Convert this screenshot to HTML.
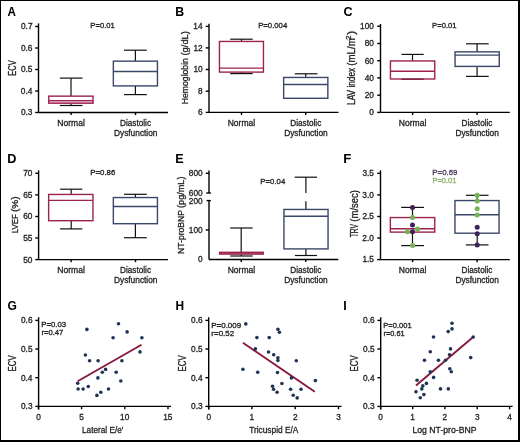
<!DOCTYPE html>
<html><head><meta charset="utf-8"><style>html,body{margin:0;padding:0;background:#fff;width:520px;height:442px;overflow:hidden;position:relative}svg{display:block;position:absolute;left:0;top:0;filter:blur(0.25px)}
.b{position:absolute;background:#000}</style></head>
<body><div class="b" style="left:0;top:0;width:520px;height:1.2px"></div><div class="b" style="left:0;top:0;width:1.4px;height:442px"></div><div class="b" style="left:518.2px;top:0;width:1.8px;height:442px"></div><div class="b" style="left:0;top:440.2px;width:520px;height:1.8px"></div>
<svg width="520" height="442" viewBox="0 0 520 442" font-family="'Liberation Sans', sans-serif">

<text x="7.51" y="16.00" font-size="12.1" font-weight="bold" fill="#000" textLength="8.41" lengthAdjust="spacingAndGlyphs" stroke="#000" stroke-width="0.05">A</text>
<text x="175.30" y="15.90" font-size="12.1" font-weight="bold" fill="#000" textLength="8.88" lengthAdjust="spacingAndGlyphs" stroke="#000" stroke-width="0.05">B</text>
<text x="343.40" y="16.00" font-size="12.1" font-weight="bold" fill="#000" textLength="9.04" lengthAdjust="spacingAndGlyphs" stroke="#000" stroke-width="0.05">C</text>
<text x="7.28" y="162.90" font-size="12.1" font-weight="bold" fill="#000" textLength="9.16" lengthAdjust="spacingAndGlyphs" stroke="#000" stroke-width="0.05">D</text>
<text x="175.38" y="162.90" font-size="12.1" font-weight="bold" fill="#000" textLength="8.38" lengthAdjust="spacingAndGlyphs" stroke="#000" stroke-width="0.05">E</text>
<text x="343.15" y="162.90" font-size="12.1" font-weight="bold" fill="#000" textLength="8.03" lengthAdjust="spacingAndGlyphs" stroke="#000" stroke-width="0.05">F</text>
<text x="7.62" y="309.70" font-size="12.1" font-weight="bold" fill="#000" textLength="9.33" lengthAdjust="spacingAndGlyphs" stroke="#000" stroke-width="0.05">G</text>
<text x="175.43" y="309.90" font-size="12.1" font-weight="bold" fill="#000" textLength="8.57" lengthAdjust="spacingAndGlyphs" stroke="#000" stroke-width="0.05">H</text>
<text x="343.19" y="309.90" font-size="12.1" font-weight="bold" fill="#000" textLength="3.45" lengthAdjust="spacingAndGlyphs" stroke="#000" stroke-width="0.05">I</text>
<line x1="38.50" y1="23.40" x2="38.50" y2="112.50" stroke="#000" stroke-width="1.4"/>
<line x1="35.20" y1="26.50" x2="38.50" y2="26.50" stroke="#000" stroke-width="1.4"/>
<text x="20.98" y="29.41" font-size="8.3" font-weight="normal" fill="#222" textLength="11.54" lengthAdjust="spacingAndGlyphs" stroke="#222" stroke-width="0.3">0.7</text>
<line x1="35.20" y1="48.00" x2="38.50" y2="48.00" stroke="#000" stroke-width="1.4"/>
<text x="20.89" y="50.91" font-size="8.3" font-weight="normal" fill="#222" textLength="11.54" lengthAdjust="spacingAndGlyphs" stroke="#222" stroke-width="0.3">0.6</text>
<line x1="35.20" y1="69.50" x2="38.50" y2="69.50" stroke="#000" stroke-width="1.4"/>
<text x="20.89" y="72.41" font-size="8.3" font-weight="normal" fill="#222" textLength="11.54" lengthAdjust="spacingAndGlyphs" stroke="#222" stroke-width="0.3">0.5</text>
<line x1="35.20" y1="91.00" x2="38.50" y2="91.00" stroke="#000" stroke-width="1.4"/>
<text x="20.81" y="93.91" font-size="8.3" font-weight="normal" fill="#222" textLength="11.54" lengthAdjust="spacingAndGlyphs" stroke="#222" stroke-width="0.3">0.4</text>
<line x1="35.20" y1="112.50" x2="38.50" y2="112.50" stroke="#000" stroke-width="1.4"/>
<text x="20.89" y="115.41" font-size="8.3" font-weight="normal" fill="#222" textLength="11.54" lengthAdjust="spacingAndGlyphs" stroke="#222" stroke-width="0.3">0.3</text>
<line x1="38.50" y1="112.50" x2="168.00" y2="112.50" stroke="#000" stroke-width="1.4"/>
<line x1="71.10" y1="112.50" x2="71.10" y2="115.10" stroke="#000" stroke-width="1.4"/>
<line x1="135.50" y1="112.50" x2="135.50" y2="115.10" stroke="#000" stroke-width="1.4"/>
<text x="16.00" y="75.70" transform="rotate(-90 16.00 75.70)" font-size="10.6" fill="#222" textLength="15.34" lengthAdjust="spacingAndGlyphs" stroke="#222" stroke-width="0.3">ECV</text>
<text x="90.39" y="28.10" font-size="7.6" font-weight="normal" fill="#222" textLength="24.47" lengthAdjust="spacingAndGlyphs" stroke="#222" stroke-width="0.3">P=0.01</text>
<rect x="48.50" y="100.60" width="44.80" height="2.60" fill="#f0bfd0"/>
<line x1="71.00" y1="78.10" x2="71.00" y2="96.00" stroke="#111" stroke-width="1.2"/>
<line x1="59.80" y1="78.10" x2="82.50" y2="78.10" stroke="#111" stroke-width="1.2"/>
<line x1="71.00" y1="103.20" x2="71.00" y2="105.50" stroke="#111" stroke-width="1.2"/>
<line x1="59.80" y1="105.50" x2="82.50" y2="105.50" stroke="#111" stroke-width="1.2"/>
<rect x="48.75" y="96.15" width="44.30" height="7.05" fill="none" stroke="#9c2350" stroke-width="1.4"/>
<line x1="48.75" y1="100.60" x2="93.05" y2="100.60" stroke="#9c2350" stroke-width="1.4"/>
<line x1="135.40" y1="50.20" x2="135.40" y2="61.00" stroke="#111" stroke-width="1.2"/>
<line x1="124.00" y1="50.20" x2="146.80" y2="50.20" stroke="#111" stroke-width="1.2"/>
<line x1="135.40" y1="85.90" x2="135.40" y2="94.60" stroke="#111" stroke-width="1.2"/>
<line x1="124.00" y1="94.60" x2="146.80" y2="94.60" stroke="#111" stroke-width="1.2"/>
<rect x="113.35" y="61.15" width="44.10" height="24.75" fill="none" stroke="#3b4769" stroke-width="1.4"/>
<line x1="113.35" y1="71.50" x2="157.45" y2="71.50" stroke="#3b4769" stroke-width="1.4"/>
<text x="57.27" y="125.80" font-size="9.0" font-weight="normal" fill="#222" textLength="27.56" lengthAdjust="spacingAndGlyphs" stroke="#222" stroke-width="0.3">Normal</text>
<text x="120.09" y="125.70" font-size="9.0" font-weight="normal" fill="#222" textLength="30.95" lengthAdjust="spacingAndGlyphs" stroke="#222" stroke-width="0.3">Diastolic</text>
<text x="113.98" y="135.80" font-size="9.0" font-weight="normal" fill="#222" textLength="43.50" lengthAdjust="spacingAndGlyphs" stroke="#222" stroke-width="0.3">Dysfunction</text>
<line x1="209.00" y1="23.70" x2="209.00" y2="112.40" stroke="#000" stroke-width="1.4"/>
<line x1="205.70" y1="26.40" x2="209.00" y2="26.40" stroke="#000" stroke-width="1.4"/>
<text x="193.34" y="29.26" font-size="8.3" font-weight="normal" fill="#222" textLength="9.23" lengthAdjust="spacingAndGlyphs" stroke="#222" stroke-width="0.3">14</text>
<line x1="205.70" y1="47.90" x2="209.00" y2="47.90" stroke="#000" stroke-width="1.4"/>
<text x="193.50" y="50.80" font-size="8.3" font-weight="normal" fill="#222" textLength="9.23" lengthAdjust="spacingAndGlyphs" stroke="#222" stroke-width="0.3">12</text>
<line x1="205.70" y1="69.50" x2="209.00" y2="69.50" stroke="#000" stroke-width="1.4"/>
<text x="193.38" y="72.41" font-size="8.3" font-weight="normal" fill="#222" textLength="9.23" lengthAdjust="spacingAndGlyphs" stroke="#222" stroke-width="0.3">10</text>
<line x1="205.70" y1="91.20" x2="209.00" y2="91.20" stroke="#000" stroke-width="1.4"/>
<text x="198.03" y="94.11" font-size="8.3" font-weight="normal" fill="#222" textLength="4.62" lengthAdjust="spacingAndGlyphs" stroke="#222" stroke-width="0.3">8</text>
<line x1="205.70" y1="112.40" x2="209.00" y2="112.40" stroke="#000" stroke-width="1.4"/>
<text x="198.03" y="115.31" font-size="8.3" font-weight="normal" fill="#222" textLength="4.62" lengthAdjust="spacingAndGlyphs" stroke="#222" stroke-width="0.3">6</text>
<line x1="209.00" y1="112.40" x2="338.50" y2="112.40" stroke="#000" stroke-width="1.4"/>
<line x1="241.50" y1="112.40" x2="241.50" y2="115.00" stroke="#000" stroke-width="1.4"/>
<line x1="305.70" y1="112.40" x2="305.70" y2="115.00" stroke="#000" stroke-width="1.4"/>
<text x="188.40" y="104.19" transform="rotate(-90 188.40 104.19)" font-size="9.8" fill="#222" textLength="46.07" lengthAdjust="spacingAndGlyphs" stroke="#222" stroke-width="0.3">Hemoglobin</text>
<text x="188.40" y="55.56" transform="rotate(-90 188.40 55.56)" font-size="9.8" fill="#222" textLength="24.55" lengthAdjust="spacingAndGlyphs" stroke="#222" stroke-width="0.3">(g/dL)</text>
<text x="258.18" y="28.20" font-size="7.6" font-weight="normal" fill="#222" textLength="29.08" lengthAdjust="spacingAndGlyphs" stroke="#222" stroke-width="0.3">P=0.004</text>
<line x1="241.50" y1="39.20" x2="241.50" y2="41.30" stroke="#111" stroke-width="1.2"/>
<line x1="230.20" y1="39.20" x2="252.70" y2="39.20" stroke="#111" stroke-width="1.2"/>
<line x1="241.50" y1="72.10" x2="241.50" y2="73.60" stroke="#111" stroke-width="1.2"/>
<line x1="230.20" y1="73.60" x2="252.70" y2="73.60" stroke="#111" stroke-width="1.2"/>
<rect x="219.45" y="41.45" width="44.00" height="30.65" fill="none" stroke="#9c2350" stroke-width="1.4"/>
<line x1="219.45" y1="68.10" x2="263.45" y2="68.10" stroke="#9c2350" stroke-width="1.4"/>
<line x1="305.70" y1="73.80" x2="305.70" y2="77.30" stroke="#111" stroke-width="1.2"/>
<line x1="294.80" y1="73.80" x2="317.50" y2="73.80" stroke="#111" stroke-width="1.2"/>
<rect x="283.65" y="77.45" width="44.20" height="20.85" fill="none" stroke="#3b4769" stroke-width="1.4"/>
<line x1="283.65" y1="84.50" x2="327.85" y2="84.50" stroke="#3b4769" stroke-width="1.4"/>
<text x="227.67" y="125.80" font-size="9.0" font-weight="normal" fill="#222" textLength="27.56" lengthAdjust="spacingAndGlyphs" stroke="#222" stroke-width="0.3">Normal</text>
<text x="290.29" y="125.70" font-size="9.0" font-weight="normal" fill="#222" textLength="30.95" lengthAdjust="spacingAndGlyphs" stroke="#222" stroke-width="0.3">Diastolic</text>
<text x="284.18" y="135.80" font-size="9.0" font-weight="normal" fill="#222" textLength="43.50" lengthAdjust="spacingAndGlyphs" stroke="#222" stroke-width="0.3">Dysfunction</text>
<line x1="380.50" y1="24.00" x2="380.50" y2="112.40" stroke="#000" stroke-width="1.4"/>
<line x1="377.20" y1="26.20" x2="380.50" y2="26.20" stroke="#000" stroke-width="1.4"/>
<text x="360.07" y="29.11" font-size="8.3" font-weight="normal" fill="#222" textLength="13.85" lengthAdjust="spacingAndGlyphs" stroke="#222" stroke-width="0.3">100</text>
<line x1="377.20" y1="43.50" x2="380.50" y2="43.50" stroke="#000" stroke-width="1.4"/>
<text x="364.68" y="46.41" font-size="8.3" font-weight="normal" fill="#222" textLength="9.23" lengthAdjust="spacingAndGlyphs" stroke="#222" stroke-width="0.3">80</text>
<line x1="377.20" y1="60.70" x2="380.50" y2="60.70" stroke="#000" stroke-width="1.4"/>
<text x="364.68" y="63.61" font-size="8.3" font-weight="normal" fill="#222" textLength="9.23" lengthAdjust="spacingAndGlyphs" stroke="#222" stroke-width="0.3">60</text>
<line x1="377.20" y1="77.90" x2="380.50" y2="77.90" stroke="#000" stroke-width="1.4"/>
<text x="364.68" y="80.81" font-size="8.3" font-weight="normal" fill="#222" textLength="9.23" lengthAdjust="spacingAndGlyphs" stroke="#222" stroke-width="0.3">40</text>
<line x1="377.20" y1="95.20" x2="380.50" y2="95.20" stroke="#000" stroke-width="1.4"/>
<text x="364.68" y="98.11" font-size="8.3" font-weight="normal" fill="#222" textLength="9.23" lengthAdjust="spacingAndGlyphs" stroke="#222" stroke-width="0.3">20</text>
<line x1="377.20" y1="112.40" x2="380.50" y2="112.40" stroke="#000" stroke-width="1.4"/>
<text x="369.28" y="115.31" font-size="8.3" font-weight="normal" fill="#222" textLength="4.62" lengthAdjust="spacingAndGlyphs" stroke="#222" stroke-width="0.3">0</text>
<line x1="380.50" y1="112.40" x2="509.80" y2="112.40" stroke="#000" stroke-width="1.4"/>
<line x1="412.60" y1="112.40" x2="412.60" y2="115.00" stroke="#000" stroke-width="1.4"/>
<line x1="477.10" y1="112.40" x2="477.10" y2="115.00" stroke="#000" stroke-width="1.4"/>
<text x="355.30" y="104.96" transform="rotate(-90 355.30 104.96)" font-size="10.0" fill="#222" textLength="37.14" lengthAdjust="spacingAndGlyphs" stroke="#222" stroke-width="0.3">LAV index</text>
<text x="355.30" y="65.68" transform="rotate(-90 355.30 65.68)" font-size="10.0" fill="#222" textLength="27.39" lengthAdjust="spacingAndGlyphs" stroke="#222" stroke-width="0.3">(mL/m</text>
<text x="351.00" y="39.78" transform="rotate(-90 351.00 39.78)" font-size="6.6" fill="#222" textLength="4.28" lengthAdjust="spacingAndGlyphs" stroke="#222" stroke-width="0.3">2</text>
<text x="355.30" y="34.86" transform="rotate(-90 355.30 34.86)" font-size="10.0" fill="#222" textLength="4.15" lengthAdjust="spacingAndGlyphs" stroke="#222" stroke-width="0.3">)</text>
<text x="432.09" y="28.10" font-size="7.6" font-weight="normal" fill="#222" textLength="24.47" lengthAdjust="spacingAndGlyphs" stroke="#222" stroke-width="0.3">P=0.01</text>
<line x1="412.50" y1="54.40" x2="412.50" y2="60.80" stroke="#111" stroke-width="1.2"/>
<line x1="401.50" y1="54.40" x2="423.70" y2="54.40" stroke="#111" stroke-width="1.2"/>
<line x1="412.50" y1="79.00" x2="412.50" y2="79.20" stroke="#111" stroke-width="1.2"/>
<line x1="401.50" y1="79.20" x2="423.70" y2="79.20" stroke="#111" stroke-width="1.2"/>
<rect x="390.45" y="60.95" width="44.30" height="18.05" fill="none" stroke="#9c2350" stroke-width="1.4"/>
<line x1="390.45" y1="71.20" x2="434.75" y2="71.20" stroke="#9c2350" stroke-width="1.4"/>
<line x1="477.10" y1="43.80" x2="477.10" y2="51.70" stroke="#111" stroke-width="1.2"/>
<line x1="466.00" y1="43.80" x2="488.70" y2="43.80" stroke="#111" stroke-width="1.2"/>
<line x1="477.10" y1="66.40" x2="477.10" y2="76.40" stroke="#111" stroke-width="1.2"/>
<line x1="466.00" y1="76.40" x2="488.70" y2="76.40" stroke="#111" stroke-width="1.2"/>
<rect x="455.05" y="51.85" width="44.20" height="14.55" fill="none" stroke="#3b4769" stroke-width="1.4"/>
<line x1="455.05" y1="55.10" x2="499.25" y2="55.10" stroke="#3b4769" stroke-width="1.4"/>
<text x="398.77" y="125.80" font-size="9.0" font-weight="normal" fill="#222" textLength="27.56" lengthAdjust="spacingAndGlyphs" stroke="#222" stroke-width="0.3">Normal</text>
<text x="461.49" y="125.70" font-size="9.0" font-weight="normal" fill="#222" textLength="30.95" lengthAdjust="spacingAndGlyphs" stroke="#222" stroke-width="0.3">Diastolic</text>
<text x="455.38" y="135.80" font-size="9.0" font-weight="normal" fill="#222" textLength="43.50" lengthAdjust="spacingAndGlyphs" stroke="#222" stroke-width="0.3">Dysfunction</text>
<line x1="38.60" y1="170.40" x2="38.60" y2="259.60" stroke="#000" stroke-width="1.4"/>
<line x1="35.30" y1="173.30" x2="38.60" y2="173.30" stroke="#000" stroke-width="1.4"/>
<text x="23.18" y="176.21" font-size="8.3" font-weight="normal" fill="#222" textLength="9.23" lengthAdjust="spacingAndGlyphs" stroke="#222" stroke-width="0.3">70</text>
<line x1="35.30" y1="194.90" x2="38.60" y2="194.90" stroke="#000" stroke-width="1.4"/>
<text x="23.22" y="197.81" font-size="8.3" font-weight="normal" fill="#222" textLength="9.23" lengthAdjust="spacingAndGlyphs" stroke="#222" stroke-width="0.3">65</text>
<line x1="35.30" y1="216.50" x2="38.60" y2="216.50" stroke="#000" stroke-width="1.4"/>
<text x="23.18" y="219.41" font-size="8.3" font-weight="normal" fill="#222" textLength="9.23" lengthAdjust="spacingAndGlyphs" stroke="#222" stroke-width="0.3">60</text>
<line x1="35.30" y1="238.00" x2="38.60" y2="238.00" stroke="#000" stroke-width="1.4"/>
<text x="23.22" y="240.86" font-size="8.3" font-weight="normal" fill="#222" textLength="9.23" lengthAdjust="spacingAndGlyphs" stroke="#222" stroke-width="0.3">55</text>
<line x1="35.30" y1="259.60" x2="38.60" y2="259.60" stroke="#000" stroke-width="1.4"/>
<text x="23.18" y="262.50" font-size="8.3" font-weight="normal" fill="#222" textLength="9.23" lengthAdjust="spacingAndGlyphs" stroke="#222" stroke-width="0.3">50</text>
<line x1="38.60" y1="259.60" x2="168.00" y2="259.60" stroke="#000" stroke-width="1.4"/>
<line x1="71.10" y1="259.60" x2="71.10" y2="262.20" stroke="#000" stroke-width="1.4"/>
<line x1="135.50" y1="259.60" x2="135.50" y2="262.20" stroke="#000" stroke-width="1.4"/>
<text x="17.80" y="233.33" transform="rotate(-90 17.80 233.33)" font-size="9.9" fill="#222" textLength="19.06" lengthAdjust="spacingAndGlyphs" stroke="#222" stroke-width="0.3">LVEF</text>
<text x="17.80" y="212.11" transform="rotate(-90 17.80 212.11)" font-size="9.9" fill="#222" textLength="15.77" lengthAdjust="spacingAndGlyphs" stroke="#222" stroke-width="0.3">(%)</text>
<text x="90.17" y="175.00" font-size="7.6" font-weight="normal" fill="#222" textLength="25.16" lengthAdjust="spacingAndGlyphs" stroke="#222" stroke-width="0.3">P=0.86</text>
<line x1="71.20" y1="189.20" x2="71.20" y2="194.30" stroke="#111" stroke-width="1.2"/>
<line x1="60.10" y1="189.20" x2="82.40" y2="189.20" stroke="#111" stroke-width="1.2"/>
<line x1="71.20" y1="220.70" x2="71.20" y2="228.90" stroke="#111" stroke-width="1.2"/>
<line x1="60.10" y1="228.90" x2="82.40" y2="228.90" stroke="#111" stroke-width="1.2"/>
<rect x="48.65" y="194.45" width="44.30" height="26.25" fill="none" stroke="#9c2350" stroke-width="1.4"/>
<line x1="48.65" y1="200.40" x2="92.95" y2="200.40" stroke="#9c2350" stroke-width="1.4"/>
<line x1="135.40" y1="194.30" x2="135.40" y2="197.40" stroke="#111" stroke-width="1.2"/>
<line x1="124.00" y1="194.30" x2="146.80" y2="194.30" stroke="#111" stroke-width="1.2"/>
<line x1="135.40" y1="223.70" x2="135.40" y2="237.70" stroke="#111" stroke-width="1.2"/>
<line x1="124.00" y1="237.70" x2="146.80" y2="237.70" stroke="#111" stroke-width="1.2"/>
<rect x="113.35" y="197.55" width="44.10" height="26.15" fill="none" stroke="#3b4769" stroke-width="1.4"/>
<line x1="113.35" y1="206.50" x2="157.45" y2="206.50" stroke="#3b4769" stroke-width="1.4"/>
<text x="57.27" y="272.80" font-size="9.0" font-weight="normal" fill="#222" textLength="27.56" lengthAdjust="spacingAndGlyphs" stroke="#222" stroke-width="0.3">Normal</text>
<text x="120.09" y="272.70" font-size="9.0" font-weight="normal" fill="#222" textLength="30.95" lengthAdjust="spacingAndGlyphs" stroke="#222" stroke-width="0.3">Diastolic</text>
<text x="113.98" y="282.80" font-size="9.0" font-weight="normal" fill="#222" textLength="43.50" lengthAdjust="spacingAndGlyphs" stroke="#222" stroke-width="0.3">Dysfunction</text>
<line x1="209.00" y1="170.60" x2="209.00" y2="193.00" stroke="#000" stroke-width="1.4"/>
<line x1="205.70" y1="173.30" x2="209.00" y2="173.30" stroke="#000" stroke-width="1.4"/>
<line x1="206.30" y1="193.00" x2="210.90" y2="193.00" stroke="#000" stroke-width="1.4"/>
<line x1="209.00" y1="200.60" x2="209.00" y2="259.50" stroke="#000" stroke-width="1.4"/>
<line x1="206.60" y1="200.60" x2="210.90" y2="200.60" stroke="#000" stroke-width="1.4"/>
<line x1="205.70" y1="230.00" x2="209.00" y2="230.00" stroke="#000" stroke-width="1.4"/>
<text x="188.77" y="176.21" font-size="8.3" font-weight="normal" fill="#222" textLength="13.85" lengthAdjust="spacingAndGlyphs" stroke="#222" stroke-width="0.3">800</text>
<text x="188.77" y="195.91" font-size="8.3" font-weight="normal" fill="#222" textLength="13.85" lengthAdjust="spacingAndGlyphs" stroke="#222" stroke-width="0.3">600</text>
<text x="188.77" y="203.50" font-size="8.3" font-weight="normal" fill="#222" textLength="13.85" lengthAdjust="spacingAndGlyphs" stroke="#222" stroke-width="0.3">200</text>
<text x="188.77" y="232.91" font-size="8.3" font-weight="normal" fill="#222" textLength="13.85" lengthAdjust="spacingAndGlyphs" stroke="#222" stroke-width="0.3">100</text>
<text x="197.98" y="262.30" font-size="8.3" font-weight="normal" fill="#222" textLength="4.62" lengthAdjust="spacingAndGlyphs" stroke="#222" stroke-width="0.3">0</text>
<line x1="209.00" y1="259.50" x2="338.30" y2="259.50" stroke="#000" stroke-width="1.4"/>
<line x1="241.20" y1="259.50" x2="241.20" y2="262.10" stroke="#000" stroke-width="1.4"/>
<line x1="305.70" y1="259.50" x2="305.70" y2="262.10" stroke="#000" stroke-width="1.4"/>
<text x="184.00" y="253.99" transform="rotate(-90 184.00 253.99)" font-size="9.8" fill="#222" textLength="44.04" lengthAdjust="spacingAndGlyphs" stroke="#222" stroke-width="0.3">NT-proBNP</text>
<text x="184.00" y="207.95" transform="rotate(-90 184.00 207.95)" font-size="9.8" fill="#222" textLength="31.45" lengthAdjust="spacingAndGlyphs" stroke="#222" stroke-width="0.3">(pg/mL)</text>
<text x="260.38" y="184.20" font-size="7.6" font-weight="normal" fill="#222" textLength="24.87" lengthAdjust="spacingAndGlyphs" stroke="#222" stroke-width="0.3">P=0.04</text>
<line x1="241.20" y1="228.00" x2="241.20" y2="251.90" stroke="#111" stroke-width="1.2"/>
<line x1="230.20" y1="228.00" x2="252.70" y2="228.00" stroke="#111" stroke-width="1.2"/>
<line x1="230.20" y1="256.00" x2="252.70" y2="256.00" stroke="#111" stroke-width="1.2"/>
<line x1="241.20" y1="254.20" x2="241.20" y2="256.00" stroke="#111" stroke-width="1.2"/>
<rect x="219.6" y="252.3" width="43.7" height="1.8" fill="#c4587c" stroke="#9c2350" stroke-width="1.4"/>
<line x1="305.90" y1="177.20" x2="305.90" y2="192.90" stroke="#111" stroke-width="1.2"/>
<line x1="305.90" y1="201.20" x2="305.90" y2="209.30" stroke="#111" stroke-width="1.2"/>
<line x1="294.70" y1="177.20" x2="317.10" y2="177.20" stroke="#111" stroke-width="1.2"/>
<line x1="305.90" y1="248.90" x2="305.90" y2="255.50" stroke="#111" stroke-width="1.2"/>
<line x1="294.90" y1="255.50" x2="317.00" y2="255.50" stroke="#111" stroke-width="1.2"/>
<rect x="283.95" y="209.45" width="44.10" height="39.45" fill="none" stroke="#3b4769" stroke-width="1.4"/>
<line x1="283.95" y1="216.30" x2="328.05" y2="216.30" stroke="#3b4769" stroke-width="1.4"/>
<text x="227.67" y="272.80" font-size="9.0" font-weight="normal" fill="#222" textLength="27.56" lengthAdjust="spacingAndGlyphs" stroke="#222" stroke-width="0.3">Normal</text>
<text x="290.29" y="272.70" font-size="9.0" font-weight="normal" fill="#222" textLength="30.95" lengthAdjust="spacingAndGlyphs" stroke="#222" stroke-width="0.3">Diastolic</text>
<text x="284.18" y="282.80" font-size="9.0" font-weight="normal" fill="#222" textLength="43.50" lengthAdjust="spacingAndGlyphs" stroke="#222" stroke-width="0.3">Dysfunction</text>
<line x1="380.50" y1="170.40" x2="380.50" y2="259.60" stroke="#000" stroke-width="1.4"/>
<line x1="377.20" y1="173.30" x2="380.50" y2="173.30" stroke="#000" stroke-width="1.4"/>
<text x="362.40" y="176.21" font-size="8.3" font-weight="normal" fill="#222" textLength="11.54" lengthAdjust="spacingAndGlyphs" stroke="#222" stroke-width="0.3">3.5</text>
<line x1="377.20" y1="194.90" x2="380.50" y2="194.90" stroke="#000" stroke-width="1.4"/>
<text x="362.35" y="197.81" font-size="8.3" font-weight="normal" fill="#222" textLength="11.54" lengthAdjust="spacingAndGlyphs" stroke="#222" stroke-width="0.3">3.0</text>
<line x1="377.20" y1="216.50" x2="380.50" y2="216.50" stroke="#000" stroke-width="1.4"/>
<text x="362.39" y="219.41" font-size="8.3" font-weight="normal" fill="#222" textLength="11.54" lengthAdjust="spacingAndGlyphs" stroke="#222" stroke-width="0.3">2.5</text>
<line x1="377.20" y1="238.00" x2="380.50" y2="238.00" stroke="#000" stroke-width="1.4"/>
<text x="362.35" y="240.91" font-size="8.3" font-weight="normal" fill="#222" textLength="11.54" lengthAdjust="spacingAndGlyphs" stroke="#222" stroke-width="0.3">2.0</text>
<line x1="377.20" y1="259.60" x2="380.50" y2="259.60" stroke="#000" stroke-width="1.4"/>
<text x="362.40" y="262.46" font-size="8.3" font-weight="normal" fill="#222" textLength="11.54" lengthAdjust="spacingAndGlyphs" stroke="#222" stroke-width="0.3">1.5</text>
<line x1="380.50" y1="259.60" x2="509.80" y2="259.60" stroke="#000" stroke-width="1.4"/>
<line x1="412.60" y1="259.60" x2="412.60" y2="262.20" stroke="#000" stroke-width="1.4"/>
<line x1="477.10" y1="259.60" x2="477.10" y2="262.20" stroke="#000" stroke-width="1.4"/>
<text x="357.60" y="237.33" transform="rotate(-90 357.60 237.33)" font-size="10.0" fill="#222" textLength="13.18" lengthAdjust="spacingAndGlyphs" stroke="#222" stroke-width="0.3">TRV</text>
<text x="357.60" y="221.67" transform="rotate(-90 357.60 221.67)" font-size="10.0" fill="#222" textLength="31.67" lengthAdjust="spacingAndGlyphs" stroke="#222" stroke-width="0.3">(m/sec)</text>
<text x="432.37" y="175.40" font-size="7.6" font-weight="normal" fill="#4a3a5c" textLength="25.00" lengthAdjust="spacingAndGlyphs" stroke="#4a3a5c" stroke-width="0.3">P=0.69</text>
<text x="432.40" y="183.20" font-size="7.6" font-weight="normal" fill="#86b06a" textLength="23.95" lengthAdjust="spacingAndGlyphs" stroke="#86b06a" stroke-width="0.3">P=0.01</text>
<line x1="412.50" y1="207.40" x2="412.50" y2="217.40" stroke="#111" stroke-width="1.2"/>
<line x1="401.20" y1="207.40" x2="424.00" y2="207.40" stroke="#111" stroke-width="1.2"/>
<line x1="412.50" y1="232.10" x2="412.50" y2="245.60" stroke="#111" stroke-width="1.2"/>
<line x1="401.20" y1="245.60" x2="424.00" y2="245.60" stroke="#111" stroke-width="1.2"/>
<rect x="390.35" y="217.55" width="44.40" height="14.55" fill="none" stroke="#9c2350" stroke-width="1.4"/>
<line x1="390.35" y1="228.80" x2="434.75" y2="228.80" stroke="#9c2350" stroke-width="1.4"/>
<line x1="477.20" y1="195.30" x2="477.20" y2="200.40" stroke="#111" stroke-width="1.2"/>
<line x1="465.90" y1="195.30" x2="488.50" y2="195.30" stroke="#111" stroke-width="1.2"/>
<line x1="477.20" y1="233.20" x2="477.20" y2="244.90" stroke="#111" stroke-width="1.2"/>
<line x1="465.90" y1="244.90" x2="488.50" y2="244.90" stroke="#111" stroke-width="1.2"/>
<rect x="454.95" y="200.55" width="44.10" height="32.65" fill="none" stroke="#3b4769" stroke-width="1.4"/>
<line x1="454.95" y1="214.70" x2="499.05" y2="214.70" stroke="#3b4769" stroke-width="1.4"/>
<circle cx="412.50" cy="207.40" r="2.5" fill="#40205a"/>
<circle cx="412.50" cy="217.40" r="2.5" fill="#76b352"/>
<circle cx="412.50" cy="225.00" r="2.5" fill="#40205a"/>
<circle cx="407.40" cy="231.80" r="2.5" fill="#76b352"/>
<circle cx="417.60" cy="229.10" r="2.5" fill="#76b352"/>
<circle cx="412.50" cy="231.80" r="2.5" fill="#40205a"/>
<circle cx="412.50" cy="245.60" r="2.5" fill="#76b352"/>
<circle cx="477.20" cy="195.30" r="2.5" fill="#76b352"/>
<circle cx="477.20" cy="200.90" r="2.5" fill="#76b352"/>
<circle cx="477.20" cy="208.80" r="2.5" fill="#76b352"/>
<circle cx="477.20" cy="215.10" r="2.5" fill="#76b352"/>
<circle cx="477.20" cy="227.20" r="2.5" fill="#40205a"/>
<circle cx="477.20" cy="233.80" r="2.5" fill="#40205a"/>
<circle cx="477.20" cy="244.90" r="2.5" fill="#40205a"/>
<text x="398.77" y="272.80" font-size="9.0" font-weight="normal" fill="#222" textLength="27.56" lengthAdjust="spacingAndGlyphs" stroke="#222" stroke-width="0.3">Normal</text>
<text x="461.49" y="272.70" font-size="9.0" font-weight="normal" fill="#222" textLength="30.95" lengthAdjust="spacingAndGlyphs" stroke="#222" stroke-width="0.3">Diastolic</text>
<text x="455.38" y="282.80" font-size="9.0" font-weight="normal" fill="#222" textLength="43.50" lengthAdjust="spacingAndGlyphs" stroke="#222" stroke-width="0.3">Dysfunction</text>
<line x1="38.60" y1="317.20" x2="38.60" y2="409.50" stroke="#000" stroke-width="1.4"/>
<line x1="35.30" y1="320.40" x2="38.60" y2="320.40" stroke="#000" stroke-width="1.4"/>
<text x="21.00" y="323.30" font-size="8.3" font-weight="normal" fill="#222" textLength="11.54" lengthAdjust="spacingAndGlyphs" stroke="#222" stroke-width="0.3">0.6</text>
<line x1="35.30" y1="349.00" x2="38.60" y2="349.00" stroke="#000" stroke-width="1.4"/>
<text x="21.00" y="351.90" font-size="8.3" font-weight="normal" fill="#222" textLength="11.54" lengthAdjust="spacingAndGlyphs" stroke="#222" stroke-width="0.3">0.5</text>
<line x1="35.30" y1="377.70" x2="38.60" y2="377.70" stroke="#000" stroke-width="1.4"/>
<text x="20.91" y="380.60" font-size="8.3" font-weight="normal" fill="#222" textLength="11.54" lengthAdjust="spacingAndGlyphs" stroke="#222" stroke-width="0.3">0.4</text>
<line x1="35.30" y1="406.40" x2="38.60" y2="406.40" stroke="#000" stroke-width="1.4"/>
<text x="21.00" y="409.30" font-size="8.3" font-weight="normal" fill="#222" textLength="11.54" lengthAdjust="spacingAndGlyphs" stroke="#222" stroke-width="0.3">0.3</text>
<line x1="38.60" y1="406.40" x2="171.00" y2="406.40" stroke="#000" stroke-width="1.4"/>
<line x1="38.50" y1="406.40" x2="38.50" y2="409.30" stroke="#000" stroke-width="1.4"/>
<line x1="81.60" y1="406.40" x2="81.60" y2="409.30" stroke="#000" stroke-width="1.4"/>
<line x1="124.80" y1="406.40" x2="124.80" y2="409.30" stroke="#000" stroke-width="1.4"/>
<line x1="168.00" y1="406.40" x2="168.00" y2="409.30" stroke="#000" stroke-width="1.4"/>
<text x="36.18" y="419.90" font-size="8.3" font-weight="normal" fill="#222" textLength="4.62" lengthAdjust="spacingAndGlyphs" stroke="#222" stroke-width="0.3">0</text>
<text x="79.30" y="419.90" font-size="8.3" font-weight="normal" fill="#222" textLength="4.62" lengthAdjust="spacingAndGlyphs" stroke="#222" stroke-width="0.3">5</text>
<text x="120.03" y="419.90" font-size="8.3" font-weight="normal" fill="#222" textLength="9.23" lengthAdjust="spacingAndGlyphs" stroke="#222" stroke-width="0.3">10</text>
<text x="163.25" y="419.90" font-size="8.3" font-weight="normal" fill="#222" textLength="9.23" lengthAdjust="spacingAndGlyphs" stroke="#222" stroke-width="0.3">15</text>
<text x="16.00" y="371.43" transform="rotate(-90 16.00 371.43)" font-size="10.6" fill="#222" textLength="16.18" lengthAdjust="spacingAndGlyphs" stroke="#222" stroke-width="0.3">ECV</text>
<text x="82.04" y="432.60" font-size="9.5" font-weight="normal" fill="#222" textLength="41.39" lengthAdjust="spacingAndGlyphs" stroke="#222" stroke-width="0.3">Lateral E/e'</text>
<text x="41.28" y="327.40" font-size="7.6" font-weight="normal" fill="#222" textLength="24.95" lengthAdjust="spacingAndGlyphs" stroke="#222" stroke-width="0.3">P=0.03</text>
<text x="41.40" y="334.90" font-size="7.6" font-weight="normal" fill="#222" textLength="21.91" lengthAdjust="spacingAndGlyphs" stroke="#222" stroke-width="0.3">r=0.47</text>
<line x1="77.70" y1="381.30" x2="141.50" y2="344.80" stroke="#851a3c" stroke-width="1.9"/>
<circle cx="86.90" cy="329.40" r="1.8" fill="#1f3455"/>
<circle cx="85.40" cy="355.00" r="1.8" fill="#1f3455"/>
<circle cx="89.60" cy="360.80" r="1.8" fill="#1f3455"/>
<circle cx="98.10" cy="360.80" r="1.8" fill="#1f3455"/>
<circle cx="105.60" cy="369.40" r="1.8" fill="#1f3455"/>
<circle cx="102.30" cy="372.30" r="1.8" fill="#1f3455"/>
<circle cx="97.90" cy="377.90" r="1.8" fill="#1f3455"/>
<circle cx="77.70" cy="383.30" r="1.8" fill="#1f3455"/>
<circle cx="78.10" cy="389.00" r="1.8" fill="#1f3455"/>
<circle cx="83.10" cy="389.00" r="1.8" fill="#1f3455"/>
<circle cx="88.30" cy="386.50" r="1.8" fill="#1f3455"/>
<circle cx="108.50" cy="389.00" r="1.8" fill="#1f3455"/>
<circle cx="100.80" cy="392.30" r="1.8" fill="#1f3455"/>
<circle cx="96.90" cy="395.40" r="1.8" fill="#1f3455"/>
<circle cx="118.50" cy="323.70" r="1.8" fill="#1f3455"/>
<circle cx="127.10" cy="331.90" r="1.8" fill="#1f3455"/>
<circle cx="113.10" cy="337.70" r="1.8" fill="#1f3455"/>
<circle cx="141.90" cy="337.70" r="1.8" fill="#1f3455"/>
<circle cx="140.00" cy="351.90" r="1.8" fill="#1f3455"/>
<circle cx="121.90" cy="360.80" r="1.8" fill="#1f3455"/>
<circle cx="116.20" cy="372.30" r="1.8" fill="#1f3455"/>
<circle cx="120.80" cy="381.00" r="1.8" fill="#1f3455"/>
<line x1="208.70" y1="317.20" x2="208.70" y2="409.50" stroke="#000" stroke-width="1.4"/>
<line x1="205.40" y1="320.40" x2="208.70" y2="320.40" stroke="#000" stroke-width="1.4"/>
<text x="191.09" y="323.30" font-size="8.3" font-weight="normal" fill="#222" textLength="11.54" lengthAdjust="spacingAndGlyphs" stroke="#222" stroke-width="0.3">0.6</text>
<line x1="205.40" y1="349.00" x2="208.70" y2="349.00" stroke="#000" stroke-width="1.4"/>
<text x="191.09" y="351.90" font-size="8.3" font-weight="normal" fill="#222" textLength="11.54" lengthAdjust="spacingAndGlyphs" stroke="#222" stroke-width="0.3">0.5</text>
<line x1="205.40" y1="377.70" x2="208.70" y2="377.70" stroke="#000" stroke-width="1.4"/>
<text x="191.01" y="380.60" font-size="8.3" font-weight="normal" fill="#222" textLength="11.54" lengthAdjust="spacingAndGlyphs" stroke="#222" stroke-width="0.3">0.4</text>
<line x1="205.40" y1="406.40" x2="208.70" y2="406.40" stroke="#000" stroke-width="1.4"/>
<text x="191.09" y="409.30" font-size="8.3" font-weight="normal" fill="#222" textLength="11.54" lengthAdjust="spacingAndGlyphs" stroke="#222" stroke-width="0.3">0.3</text>
<line x1="208.70" y1="406.40" x2="341.50" y2="406.40" stroke="#000" stroke-width="1.4"/>
<line x1="208.70" y1="406.40" x2="208.70" y2="409.30" stroke="#000" stroke-width="1.4"/>
<line x1="251.90" y1="406.40" x2="251.90" y2="409.30" stroke="#000" stroke-width="1.4"/>
<line x1="295.20" y1="406.40" x2="295.20" y2="409.30" stroke="#000" stroke-width="1.4"/>
<line x1="338.50" y1="406.40" x2="338.50" y2="409.30" stroke="#000" stroke-width="1.4"/>
<text x="206.38" y="419.90" font-size="8.3" font-weight="normal" fill="#222" textLength="4.62" lengthAdjust="spacingAndGlyphs" stroke="#222" stroke-width="0.3">0</text>
<text x="249.47" y="419.90" font-size="8.3" font-weight="normal" fill="#222" textLength="4.62" lengthAdjust="spacingAndGlyphs" stroke="#222" stroke-width="0.3">1</text>
<text x="292.90" y="419.90" font-size="8.3" font-weight="normal" fill="#222" textLength="4.62" lengthAdjust="spacingAndGlyphs" stroke="#222" stroke-width="0.3">2</text>
<text x="336.20" y="419.90" font-size="8.3" font-weight="normal" fill="#222" textLength="4.62" lengthAdjust="spacingAndGlyphs" stroke="#222" stroke-width="0.3">3</text>
<text x="186.10" y="371.43" transform="rotate(-90 186.10 371.43)" font-size="10.6" fill="#222" textLength="16.18" lengthAdjust="spacingAndGlyphs" stroke="#222" stroke-width="0.3">ECV</text>
<text x="249.23" y="432.60" font-size="9.5" font-weight="normal" fill="#222" textLength="49.10" lengthAdjust="spacingAndGlyphs" stroke="#222" stroke-width="0.3">Tricuspid E/A</text>
<text x="211.26" y="327.80" font-size="7.6" font-weight="normal" fill="#222" textLength="29.92" lengthAdjust="spacingAndGlyphs" stroke="#222" stroke-width="0.3">P=0.009</text>
<text x="211.38" y="335.50" font-size="7.6" font-weight="normal" fill="#222" textLength="22.74" lengthAdjust="spacingAndGlyphs" stroke="#222" stroke-width="0.3">r=0.52</text>
<line x1="242.90" y1="342.80" x2="314.80" y2="391.80" stroke="#851a3c" stroke-width="1.9"/>
<circle cx="245.80" cy="323.90" r="1.8" fill="#1f3455"/>
<circle cx="277.90" cy="329.30" r="1.8" fill="#1f3455"/>
<circle cx="279.40" cy="332.20" r="1.8" fill="#1f3455"/>
<circle cx="256.90" cy="337.60" r="1.8" fill="#1f3455"/>
<circle cx="269.20" cy="337.60" r="1.8" fill="#1f3455"/>
<circle cx="255.40" cy="348.90" r="1.8" fill="#1f3455"/>
<circle cx="268.50" cy="352.00" r="1.8" fill="#1f3455"/>
<circle cx="273.70" cy="354.70" r="1.8" fill="#1f3455"/>
<circle cx="277.90" cy="357.80" r="1.8" fill="#1f3455"/>
<circle cx="277.90" cy="360.50" r="1.8" fill="#1f3455"/>
<circle cx="242.90" cy="369.30" r="1.8" fill="#1f3455"/>
<circle cx="257.70" cy="372.20" r="1.8" fill="#1f3455"/>
<circle cx="277.50" cy="372.50" r="1.8" fill="#1f3455"/>
<circle cx="296.30" cy="360.70" r="1.8" fill="#1f3455"/>
<circle cx="291.40" cy="377.90" r="1.8" fill="#1f3455"/>
<circle cx="315.40" cy="380.60" r="1.8" fill="#1f3455"/>
<circle cx="281.90" cy="383.50" r="1.8" fill="#1f3455"/>
<circle cx="272.50" cy="386.30" r="1.8" fill="#1f3455"/>
<circle cx="273.60" cy="389.20" r="1.8" fill="#1f3455"/>
<circle cx="277.10" cy="392.30" r="1.8" fill="#1f3455"/>
<circle cx="290.60" cy="389.20" r="1.8" fill="#1f3455"/>
<circle cx="301.00" cy="389.20" r="1.8" fill="#1f3455"/>
<circle cx="293.20" cy="395.20" r="1.8" fill="#1f3455"/>
<circle cx="297.20" cy="397.90" r="1.8" fill="#1f3455"/>
<line x1="380.70" y1="317.20" x2="380.70" y2="409.50" stroke="#000" stroke-width="1.4"/>
<line x1="377.40" y1="320.40" x2="380.70" y2="320.40" stroke="#000" stroke-width="1.4"/>
<text x="363.10" y="323.30" font-size="8.3" font-weight="normal" fill="#222" textLength="11.54" lengthAdjust="spacingAndGlyphs" stroke="#222" stroke-width="0.3">0.6</text>
<line x1="377.40" y1="349.00" x2="380.70" y2="349.00" stroke="#000" stroke-width="1.4"/>
<text x="363.10" y="351.90" font-size="8.3" font-weight="normal" fill="#222" textLength="11.54" lengthAdjust="spacingAndGlyphs" stroke="#222" stroke-width="0.3">0.5</text>
<line x1="377.40" y1="377.70" x2="380.70" y2="377.70" stroke="#000" stroke-width="1.4"/>
<text x="363.01" y="380.60" font-size="8.3" font-weight="normal" fill="#222" textLength="11.54" lengthAdjust="spacingAndGlyphs" stroke="#222" stroke-width="0.3">0.4</text>
<line x1="377.40" y1="406.40" x2="380.70" y2="406.40" stroke="#000" stroke-width="1.4"/>
<text x="363.10" y="409.30" font-size="8.3" font-weight="normal" fill="#222" textLength="11.54" lengthAdjust="spacingAndGlyphs" stroke="#222" stroke-width="0.3">0.3</text>
<line x1="380.70" y1="406.40" x2="512.60" y2="406.40" stroke="#000" stroke-width="1.4"/>
<line x1="380.60" y1="406.40" x2="380.60" y2="409.30" stroke="#000" stroke-width="1.4"/>
<line x1="412.70" y1="406.40" x2="412.70" y2="409.30" stroke="#000" stroke-width="1.4"/>
<line x1="444.90" y1="406.40" x2="444.90" y2="409.30" stroke="#000" stroke-width="1.4"/>
<line x1="477.20" y1="406.40" x2="477.20" y2="409.30" stroke="#000" stroke-width="1.4"/>
<line x1="509.60" y1="406.40" x2="509.60" y2="409.30" stroke="#000" stroke-width="1.4"/>
<text x="378.28" y="419.90" font-size="8.3" font-weight="normal" fill="#222" textLength="4.62" lengthAdjust="spacingAndGlyphs" stroke="#222" stroke-width="0.3">0</text>
<text x="410.27" y="419.90" font-size="8.3" font-weight="normal" fill="#222" textLength="4.62" lengthAdjust="spacingAndGlyphs" stroke="#222" stroke-width="0.3">1</text>
<text x="442.60" y="419.90" font-size="8.3" font-weight="normal" fill="#222" textLength="4.62" lengthAdjust="spacingAndGlyphs" stroke="#222" stroke-width="0.3">2</text>
<text x="474.90" y="419.90" font-size="8.3" font-weight="normal" fill="#222" textLength="4.62" lengthAdjust="spacingAndGlyphs" stroke="#222" stroke-width="0.3">3</text>
<text x="507.34" y="419.90" font-size="8.3" font-weight="normal" fill="#222" textLength="4.62" lengthAdjust="spacingAndGlyphs" stroke="#222" stroke-width="0.3">4</text>
<text x="358.10" y="371.43" transform="rotate(-90 358.10 371.43)" font-size="10.6" fill="#222" textLength="16.18" lengthAdjust="spacingAndGlyphs" stroke="#222" stroke-width="0.3">ECV</text>
<text x="412.41" y="432.60" font-size="9.5" font-weight="normal" fill="#222" textLength="64.15" lengthAdjust="spacingAndGlyphs" stroke="#222" stroke-width="0.3">Log NT-pro-BNP</text>
<text x="383.29" y="327.80" font-size="7.6" font-weight="normal" fill="#222" textLength="28.47" lengthAdjust="spacingAndGlyphs" stroke="#222" stroke-width="0.3">P=0.001</text>
<text x="383.42" y="335.50" font-size="7.6" font-weight="normal" fill="#222" textLength="21.24" lengthAdjust="spacingAndGlyphs" stroke="#222" stroke-width="0.3">r=0.61</text>
<line x1="416.00" y1="385.50" x2="473.20" y2="337.00" stroke="#851a3c" stroke-width="1.9"/>
<circle cx="452.00" cy="323.20" r="1.8" fill="#1f3455"/>
<circle cx="452.00" cy="328.90" r="1.8" fill="#1f3455"/>
<circle cx="448.20" cy="331.60" r="1.8" fill="#1f3455"/>
<circle cx="433.50" cy="337.00" r="1.8" fill="#1f3455"/>
<circle cx="450.50" cy="348.90" r="1.8" fill="#1f3455"/>
<circle cx="430.30" cy="351.80" r="1.8" fill="#1f3455"/>
<circle cx="449.50" cy="354.70" r="1.8" fill="#1f3455"/>
<circle cx="424.50" cy="360.20" r="1.8" fill="#1f3455"/>
<circle cx="438.40" cy="360.20" r="1.8" fill="#1f3455"/>
<circle cx="445.50" cy="360.20" r="1.8" fill="#1f3455"/>
<circle cx="449.80" cy="368.70" r="1.8" fill="#1f3455"/>
<circle cx="451.30" cy="371.80" r="1.8" fill="#1f3455"/>
<circle cx="430.30" cy="371.80" r="1.8" fill="#1f3455"/>
<circle cx="433.60" cy="377.40" r="1.8" fill="#1f3455"/>
<circle cx="417.10" cy="380.30" r="1.8" fill="#1f3455"/>
<circle cx="426.40" cy="383.40" r="1.8" fill="#1f3455"/>
<circle cx="422.80" cy="385.90" r="1.8" fill="#1f3455"/>
<circle cx="421.80" cy="388.90" r="1.8" fill="#1f3455"/>
<circle cx="440.50" cy="388.90" r="1.8" fill="#1f3455"/>
<circle cx="448.30" cy="388.90" r="1.8" fill="#1f3455"/>
<circle cx="416.00" cy="391.70" r="1.8" fill="#1f3455"/>
<circle cx="423.90" cy="394.60" r="1.8" fill="#1f3455"/>
<circle cx="420.30" cy="397.70" r="1.8" fill="#1f3455"/>
<circle cx="473.20" cy="337.00" r="1.8" fill="#1f3455"/>
<circle cx="470.70" cy="357.60" r="1.8" fill="#1f3455"/>
</svg></body></html>
